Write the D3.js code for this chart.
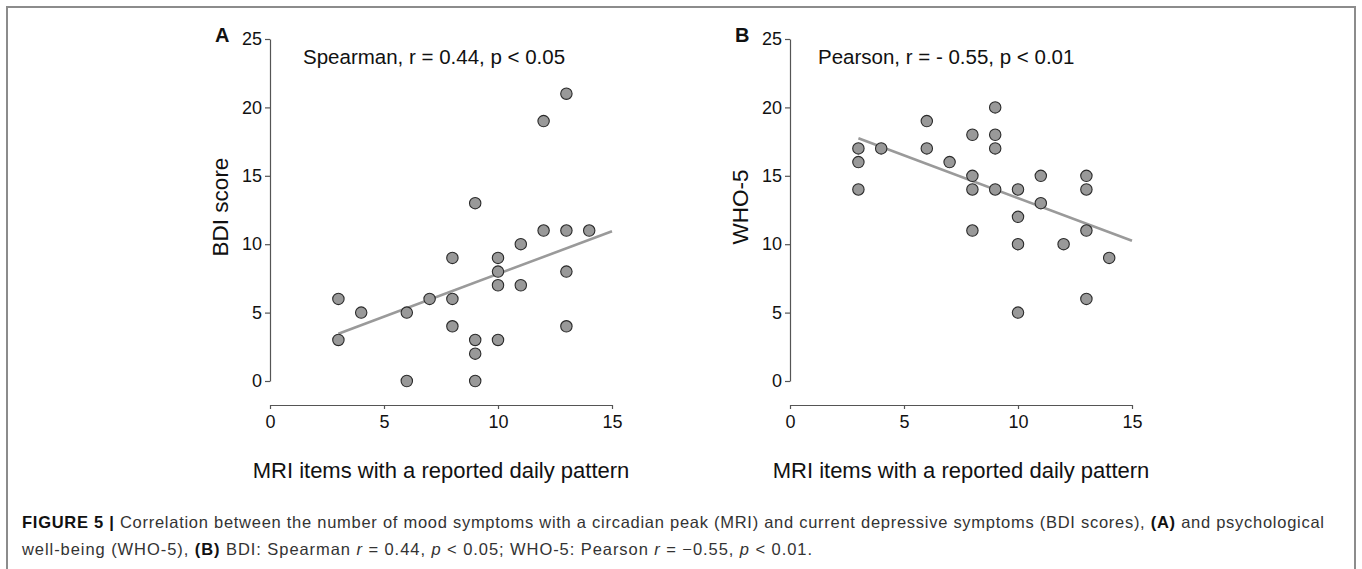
<!DOCTYPE html>
<html>
<head>
<meta charset="utf-8">
<script src="https://cdn.jsdelivr.net/npm/d3@7"></script>
<style>
  body { margin: 0; background: #fff; }
  svg { display: block; font-family: "Liberation Sans", Arial, Helvetica, sans-serif; }
</style>
</head>
<body>
<script>
// axis ticks
const xTicks = [0, 5, 10, 15];
const yTicks = [0, 5, 10, 15, 20, 25];

// panel A: MRI items vs BDI score
const mriA = [3, 3, 4, 6, 6, 7, 8, 8, 8, 9, 9, 9, 9, 10, 10, 10, 10, 11, 11, 12, 12, 13, 13, 13, 13, 14];
const bdiA = [6, 3, 5, 5, 0, 6, 9, 6, 4, 13, 3, 2, 0, 9, 8, 7, 3, 10, 7, 11, 19, 21, 11, 8, 4, 11];
const fitA = [[3, 3.45], [15, 10.95]];

// panel B: MRI items vs WHO-5
const mriB = [3, 3, 3, 4, 6, 6, 7, 8, 8, 8, 8, 9, 9, 9, 9, 10, 10, 10, 10, 11, 11, 12, 13, 13, 13, 13, 14];
const whoB = [17, 16, 14, 17, 19, 17, 16, 18, 15, 14, 11, 20, 18, 17, 14, 14, 12, 10, 5, 15, 13, 10, 15, 14, 11, 6, 9];
const fitB = [[3, 17.75], [15, 10.25]];

const W = 1362, H = 569;
const svg = d3.select('body').append('svg').attr('width', W).attr('height', H);

// frame of the figure box
svg.append('path')
  .attr('d', `M7,${H + 2} L7,7 L1355,7 L1355,${H + 2}`)
  .attr('fill', 'none').attr('stroke', '#8c8c8c').attr('stroke-width', 2);

function drawPanel(opt){
  const x = d3.scaleLinear().domain([0, 15]).range([opt.left, opt.left + 342]);
  const y = d3.scaleLinear().domain([0, 25]).range([381, 39]);
  const g = svg.append('g');

  // y axis
  const ya = g.append('g')
    .attr('transform', `translate(${opt.left},0)`)
    .call(d3.axisLeft(y).tickValues(yTicks).tickSize(5).tickSizeOuter(0).tickPadding(3));
  // x axis
  const xa = g.append('g')
    .attr('transform', 'translate(0,405)')
    .call(d3.axisBottom(x).tickValues(xTicks).tickSize(4).tickSizeOuter(0).tickPadding(6));

  [ya, xa].forEach(a => {
    a.select('.domain').attr('stroke', '#555').attr('stroke-width', 1.2);
    a.selectAll('.tick line').attr('stroke', '#555').attr('stroke-width', 1.2);
    a.selectAll('.tick text').attr('font-size', 18).attr('fill', '#111')
      .attr('font-family', '"Liberation Sans", Arial, sans-serif');
  });

  // regression line
  g.append('line')
    .attr('x1', x(opt.fit[0][0])).attr('y1', y(opt.fit[0][1]))
    .attr('x2', x(opt.fit[1][0])).attr('y2', y(opt.fit[1][1]))
    .attr('stroke', '#9a9a9a').attr('stroke-width', 2.6);

  // points
  g.selectAll('circle.pt')
    .data(opt.xs.map((v, i) => [v, opt.ys[i]]))
    .join('circle')
    .attr('class', 'pt')
    .attr('cx', d => x(d[0])).attr('cy', d => y(d[1]))
    .attr('r', 5.7)
    .attr('fill', '#999').attr('stroke', '#2a2a2a').attr('stroke-width', 1.1);

  // panel letter
  g.append('text')
    .attr('x', opt.left - 55).attr('y', 42)
    .attr('font-size', 20).attr('font-weight', 'bold').attr('fill', '#111')
    .text(opt.letter);

  // statistic annotation
  g.append('text')
    .attr('x', opt.left + opt.noteDx).attr('y', 64)
    .attr('font-size', 20.5).attr('fill', '#111')
    .text(opt.note);

  // y title
  g.append('text')
    .attr('transform', `translate(${opt.left - 42},207) rotate(-90)`)
    .attr('text-anchor', 'middle')
    .attr('font-size', 22.5).attr('fill', '#111')
    .text(opt.yTitle);

  // x title
  g.append('text')
    .attr('x', x(7.5)).attr('y', 478)
    .attr('text-anchor', 'middle')
    .attr('font-size', 22).attr('fill', '#111')
    .text('MRI items with a reported daily pattern');
}

drawPanel({left: 270, xs: mriA, ys: bdiA, fit: fitA, letter: 'A',
  note: 'Spearman, r = 0.44, p < 0.05', noteDx: 33, yTitle: 'BDI score'});
drawPanel({left: 790, xs: mriB, ys: whoB, fit: fitB, letter: 'B',
  note: 'Pearson, r = - 0.55, p < 0.01', noteDx: 28, yTitle: 'WHO-5'});

// caption
const cap = svg.append('g').attr('font-size', 16.5).attr('fill', '#333');

const line1 = cap.append('text').attr('x', 22).attr('y', 528)
  .attr('textLength', 1302).attr('lengthAdjust', 'spacing');
line1.append('tspan').attr('font-weight', 'bold').attr('fill', '#111').text('FIGURE 5 |');
line1.append('tspan').text(' Correlation between the number of mood symptoms with a circadian peak (MRI) and current depressive symptoms (BDI scores), ');
line1.append('tspan').attr('font-weight', 'bold').attr('fill', '#111').text('(A)');
line1.append('tspan').text(' and psychological');

const line2 = cap.append('text').attr('x', 22).attr('y', 555)
  .attr('textLength', 790).attr('lengthAdjust', 'spacing');
const parts2 = [
  ['well-being (WHO-5), ', ''], ['(B)', 'b'], [' BDI: Spearman ', ''], ['r', 'i'],
  [' = 0.44, ', ''], ['p', 'i'], [' < 0.05; WHO-5: Pearson ', ''], ['r', 'i'],
  [' = \u22120.55, ', ''], ['p', 'i'], [' < 0.01.', '']
];
parts2.forEach(([t, s]) => {
  const ts = line2.append('tspan').text(t);
  if (s === 'b') ts.attr('font-weight', 'bold').attr('fill', '#111');
  if (s === 'i') ts.attr('font-style', 'italic');
});
</script>
</body>
</html>
